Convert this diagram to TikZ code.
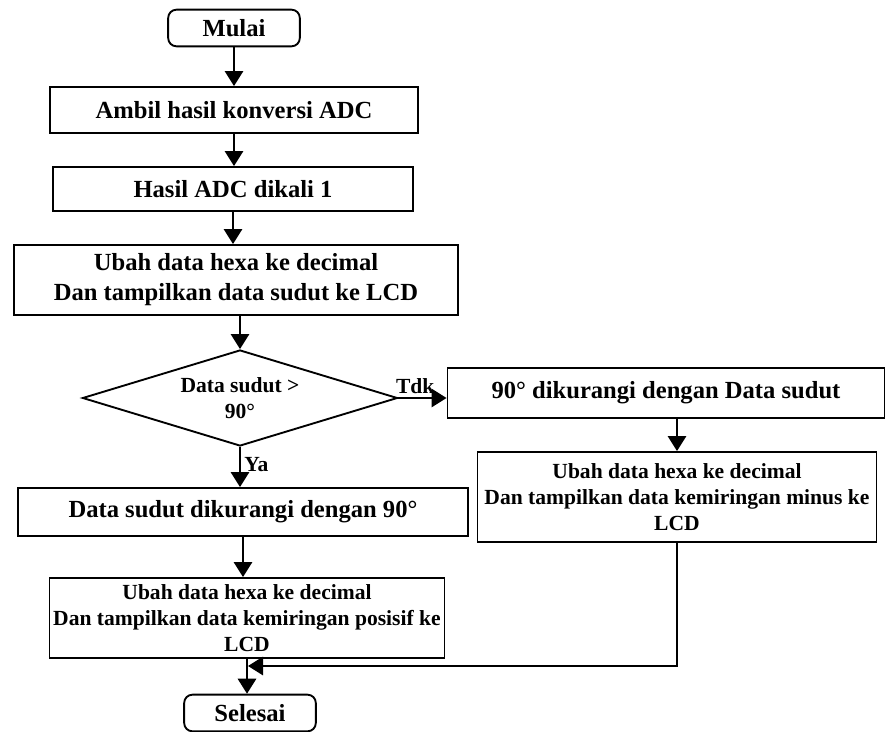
\documentclass[tikz,border=0pt]{standalone}
\usepackage{fontspec}
\setmainfont{Liberation Serif}
\usetikzlibrary{positioning,arrows.meta,shapes.geometric}

\begin{document}
\begin{tikzpicture}[x=0.03cm,y=-0.03cm,line width=1.6pt,
  font=\bfseries\fontsize{21}{25.6}\selectfont,
  proc/.style={draw,rectangle,align=center,inner sep=2pt},
  term/.style={draw,rectangle,rounded corners=0.25cm,minimum width=3.95cm,minimum height=1.1cm},
  dec/.style={draw,diamond,aspect=3.3,align=center,inner sep=0pt},
  small/.style={font=\bfseries\fontsize{18.4}{22.5}\selectfont},
  arr/.style={-{Triangle[length=0.45cm,width=0.55cm]}}]
\useasboundingbox (0,0) rectangle (890,732);
% main column
\node[term] (start) at (234,28) {Mulai};
\node[proc,minimum width=11.04cm,minimum height=1.38cm] (adc) at (234,110) {Ambil hasil konversi ADC};
\node[proc,minimum width=10.8cm,minimum height=1.32cm] (kali) at (233,189) {Hasil ADC dikali 1};
\node[proc,minimum width=13.32cm,minimum height=2.1cm] (lcd) at (236,280) {Ubah data hexa ke decimal\\Dan tampilkan data sudut ke LCD};
\node[dec,small,minimum width=9.45cm,minimum height=2.88cm] (cek) at (240,398) {Data sudut >\\90°};
\node[proc,minimum width=13.5cm,minimum height=1.44cm] (kurang) at (243,512) {Data sudut dikurangi dengan 90°};
\node[proc,small,minimum width=11.85cm,minimum height=2.4cm] (plus) at (247,618) {Ubah data hexa ke decimal\\Dan tampilkan data kemiringan posisif ke\\LCD};
\node[term] (fin) at (250,713) {Selesai};
% right branch
\node[proc,minimum width=13.11cm,minimum height=1.5cm] (balik) at (666,393) {90° dikurangi dengan Data sudut};
\node[proc,small,minimum width=11.97cm,minimum height=2.7cm] (minus) at (677,497) {Ubah data hexa ke decimal\\Dan tampilkan data kemiringan minus ke\\LCD};
\coordinate (join) at (248,666);

\draw[arr] (start) -- (start |- adc.north);
\draw[arr] (adc) -- (adc |- kali.north);
\draw[arr] (kali) -- (kali |- lcd.north);
\draw[arr] (lcd.south -| cek.north) -- (cek.north);
\draw[arr] (cek.east) -- (cek.east -| balik.west) node[pos=0.35,above,small,inner sep=3pt]{Tdk};
\draw[arr] (cek.south) -- (cek.south |- kurang.north) node[pos=0.45,right,small,inner sep=3pt]{Ya};
\draw[arr] (kurang) -- (kurang |- plus.north);
\draw[arr] (balik.south -| minus.north) -- (minus.north);
\draw[arr] (minus.south) |- (join);
\draw[arr] (plus) -- (plus |- fin.north);
\end{tikzpicture}
\end{document}
